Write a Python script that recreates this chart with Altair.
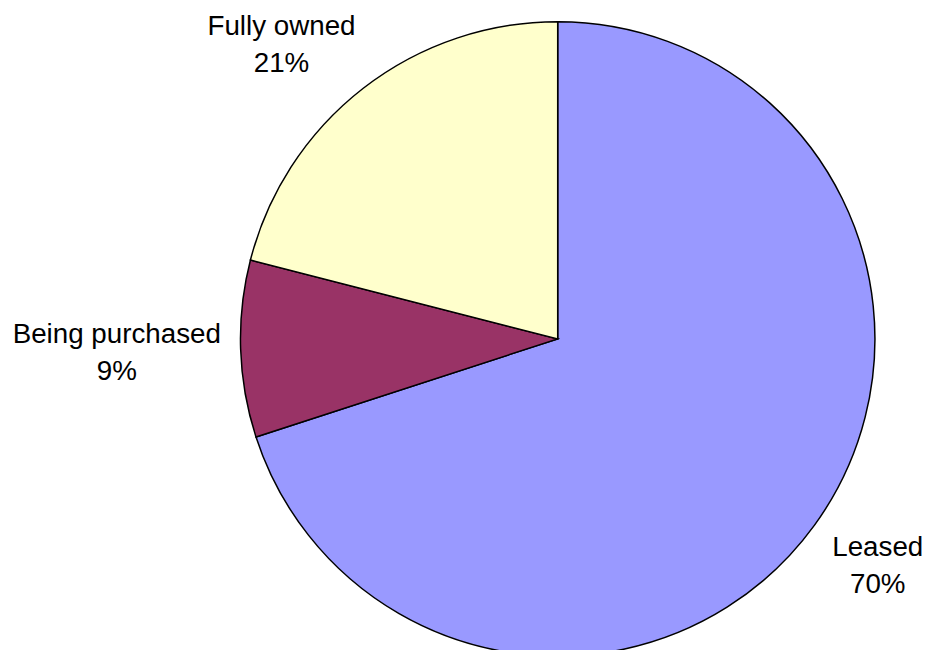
import altair as alt
import pandas as pd

categories = ["Leased", "Being purchased", "Fully owned"]
shares = [70, 9, 21]
colors = ["#9999FF", "#993366", "#FFFFCC"]

df = pd.DataFrame({"category": categories, "share": shares, "order": list(range(len(categories)))})

# label placement (style): radius in px and angular nudge in percent units
label_radius = {"Leased": 396, "Being purchased": 445, "Fully owned": 407}
label_shift = {"Leased": -0.17, "Being purchased": 0, "Fully owned": -1.5}


def case_expr(mapping, default):
    expr = str(default)
    for k, v in mapping.items():
        expr = f"(datum.category == '{k}' ? {v} : {expr})"
    return expr


base = alt.Chart(df)

arcs = base.mark_arc(radius=320, stroke="black", strokeWidth=1.5).encode(
    theta=alt.Theta("share:Q", stack=True, scale=alt.Scale(domain=[0, 100])),
    color=alt.Color("category:N", scale=alt.Scale(domain=categories, range=colors), legend=None),
    order=alt.Order("order:Q", sort="ascending"),
)

labels = (
    base.transform_window(cum="sum(share)", sort=[alt.SortField("order")], frame=[None, 0])
    .transform_calculate(
        mid="datum.cum - datum.share / 2",
    )
    .transform_calculate(
        label_theta="datum.mid + " + case_expr(label_shift, 0),
        label_r=case_expr(label_radius, 400),
        label="datum.category + '\\n' + datum.share + '%'",
    )
    .mark_text(
        font="Liberation Sans",
        fontSize=28,
        lineBreak="\n",
        lineHeight=37,
        align="center",
        baseline="middle",
        color="black",
        dy=-18,
    )
    .encode(
        theta=alt.Theta("label_theta:Q", stack=False, scale=alt.Scale(domain=[0, 100])),
        radius=alt.Radius("label_r:Q", scale=None),
        text="label:N",
    )
)

chart = (
    alt.layer(arcs, labels)
    .properties(
        width=723,
        height=622,
        autosize=alt.AutoSizeParams(type="none"),
        padding={"left": 193, "top": 20, "right": 8, "bottom": 0},
    )
    .configure_view(stroke=None)
)

chart.save("out.html", embed_options={"renderer": "svg", "actions": False})
